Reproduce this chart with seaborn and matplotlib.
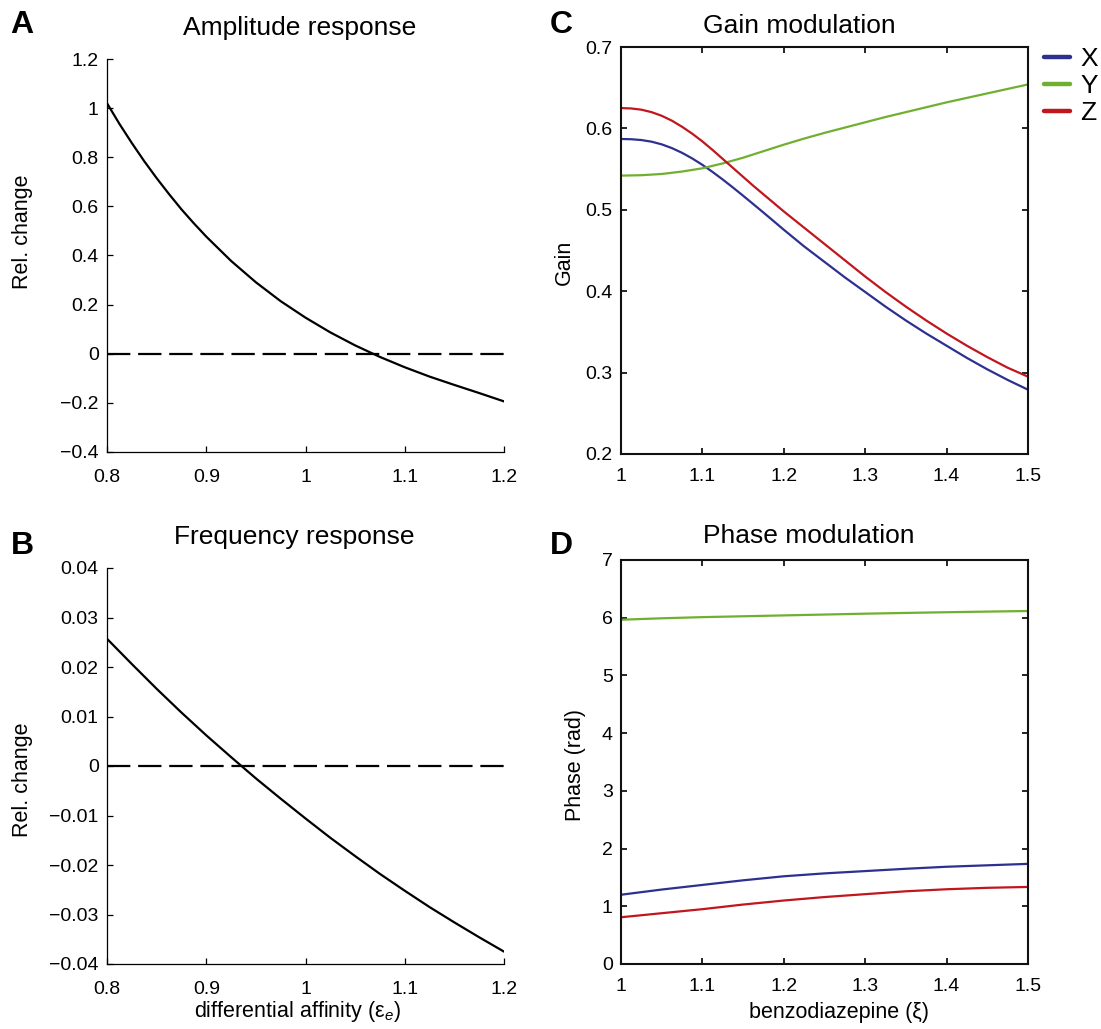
import pandas as pd
import matplotlib
matplotlib.use("Agg")
import matplotlib.pyplot as plt
import seaborn as sns
from matplotlib.lines import Line2D
from matplotlib.ticker import FuncFormatter

sns.set_style("ticks")
plt.rcParams['font.family'] = ['Liberation Sans', 'DejaVu Sans']
plt.rcParams['mathtext.fontset'] = 'custom'
plt.rcParams['mathtext.rm'] = 'Liberation Sans'
plt.rcParams['mathtext.it'] = 'Liberation Sans:italic'
plt.rcParams['text.color'] = 'black'
plt.rcParams['axes.labelcolor'] = 'black'
plt.rcParams['xtick.color'] = 'black'
plt.rcParams['ytick.color'] = 'black'

# --- data ---
# A: amplitude response vs differential affinity
eps_amp = [0.8, 0.8125, 0.825, 0.8375, 0.85, 0.8625, 0.875, 0.8875, 0.9, 0.925,
           0.95, 0.975, 1.0, 1.025, 1.05, 1.075, 1.1, 1.125, 1.15, 1.175, 1.2]
amp_change = [1.020, 0.936, 0.858, 0.784, 0.715, 0.650, 0.588, 0.531, 0.477,
              0.378, 0.291, 0.214, 0.147, 0.087, 0.034, -0.013, -0.055, -0.093,
              -0.127, -0.160, -0.194]

# B: frequency response vs differential affinity
eps_freq = [0.8, 0.825, 0.85, 0.875, 0.9, 0.925, 0.95, 0.975, 1.0, 1.025,
            1.05, 1.075, 1.1, 1.125, 1.15, 1.175, 1.2]
freq_change = [0.0257, 0.0206, 0.0156, 0.0108, 0.0062, 0.0018, -0.0025, -0.0066,
               -0.0106, -0.0145, -0.0182, -0.0218, -0.0252, -0.0285, -0.0316,
               -0.0346, -0.0375]

# C: gain modulation vs benzodiazepine
xi_gain_fine = [1.0, 1.0125, 1.025, 1.0375, 1.05, 1.0625, 1.075, 1.0875, 1.1,
                1.1125, 1.125, 1.1375, 1.15, 1.1625, 1.175, 1.1875, 1.2, 1.225,
                1.25, 1.275, 1.3, 1.325, 1.35, 1.375, 1.4, 1.425, 1.45, 1.475, 1.5]
gain_x = [0.5870, 0.5867, 0.5857, 0.5837, 0.5804, 0.5758, 0.5700, 0.5631, 0.5552,
          0.5465, 0.5372, 0.5274, 0.5173, 0.5070, 0.4966, 0.4861, 0.4755, 0.455,
          0.436, 0.417, 0.399, 0.381, 0.364, 0.348, 0.333, 0.318, 0.304, 0.291, 0.279]
gain_z = [0.6250, 0.6245, 0.6230, 0.6200, 0.6155, 0.6095, 0.6020, 0.5935, 0.5840,
          0.5735, 0.5625, 0.5515, 0.5405, 0.5295, 0.5190, 0.5085, 0.4980, 0.478,
          0.458, 0.438, 0.418, 0.399, 0.381, 0.364, 0.348, 0.333, 0.319, 0.306, 0.295]
xi_gain = [1.0, 1.025, 1.05, 1.075, 1.1, 1.125, 1.15, 1.175, 1.2, 1.225, 1.25,
           1.275, 1.3, 1.325, 1.35, 1.375, 1.4, 1.425, 1.45, 1.475, 1.5]
gain_y = [0.5420, 0.5425, 0.5440, 0.5470, 0.5510, 0.5570, 0.5640, 0.5720, 0.5800,
          0.5875, 0.5945, 0.6010, 0.6075, 0.6140, 0.6200, 0.6260, 0.6320, 0.6375,
          0.6430, 0.6485, 0.6540]

# D: phase modulation vs benzodiazepine
xi_phase = [1.0, 1.05, 1.1, 1.15, 1.2, 1.25, 1.3, 1.35, 1.4, 1.45, 1.5]
phase_x = [1.20, 1.29, 1.37, 1.45, 1.52, 1.57, 1.61, 1.65, 1.685, 1.71, 1.735]
phase_y = [5.965, 5.99, 6.01, 6.025, 6.04, 6.055, 6.07, 6.083, 6.095, 6.106, 6.116]
phase_z = [0.81, 0.88, 0.95, 1.03, 1.10, 1.16, 1.21, 1.26, 1.295, 1.32, 1.335]

cells = ['X', 'Y', 'Z']
cell_colors = {'X': '#2e3090', 'Y': '#70b030', 'Z': '#c0161e'}

df_gain = pd.DataFrame({
    'xi': xi_gain_fine + xi_gain + xi_gain_fine,
    'gain': gain_x + gain_y + gain_z,
    'cell': ['X'] * len(gain_x) + ['Y'] * len(gain_y) + ['Z'] * len(gain_z),
})
df_phase = pd.DataFrame({
    'xi': xi_phase * 3,
    'phase': phase_x + phase_y + phase_z,
    'cell': ['X'] * len(xi_phase) + ['Y'] * len(xi_phase) + ['Z'] * len(xi_phase),
})

W, H = 1101, 1029


def fmt(v, pos):
    return f'{round(v, 6):g}'.replace('-', '\u2212')


def axes_px(left, top, right, bottom):
    return [left / W, 1 - bottom / H, (right - left) / W, (bottom - top) / H]


fig = plt.figure(figsize=(W / 100, H / 100), dpi=100)
ax_a = fig.add_axes(axes_px(107, 59, 504, 452))
ax_b = fig.add_axes(axes_px(107, 568, 504, 964))
ax_c = fig.add_axes(axes_px(621, 47, 1028, 454))
ax_d = fig.add_axes(axes_px(621, 560, 1028, 964))

# A
sns.lineplot(x=eps_amp, y=amp_change, color='black', lw=1.6, ax=ax_a)
ax_a.axhline(0, color='black', lw=1.6, ls=(0, (10.5, 3.5)))
ax_a.set_xlim(0.8, 1.2)
ax_a.set_ylim(-0.4, 1.2)
ax_a.set_xticks([0.8, 0.9, 1.0, 1.1, 1.2])
ax_a.set_yticks([-0.4, -0.2, 0, 0.2, 0.4, 0.6, 0.8, 1.0, 1.2])

# B
sns.lineplot(x=eps_freq, y=freq_change, color='black', lw=1.6, ax=ax_b)
ax_b.axhline(0, color='black', lw=1.6, ls=(0, (10.5, 3.5)))
ax_b.set_xlim(0.8, 1.2)
ax_b.set_ylim(-0.04, 0.04)
ax_b.set_xticks([0.8, 0.9, 1.0, 1.1, 1.2])
ax_b.set_yticks([-0.04, -0.03, -0.02, -0.01, 0, 0.01, 0.02, 0.03, 0.04])

# C
sns.lineplot(data=df_gain, x='xi', y='gain', hue='cell', hue_order=cells,
             palette=cell_colors, lw=1.6, legend=False, ax=ax_c)
ax_c.set_xlim(1, 1.5)
ax_c.set_ylim(0.2, 0.7)
ax_c.set_xticks([1, 1.1, 1.2, 1.3, 1.4, 1.5])
ax_c.set_yticks([0.2, 0.3, 0.4, 0.5, 0.6, 0.7])

# D
sns.lineplot(data=df_phase, x='xi', y='phase', hue='cell', hue_order=cells,
             palette=cell_colors, lw=1.6, legend=False, ax=ax_d)
ax_d.set_xlim(1, 1.5)
ax_d.set_ylim(0, 7)
ax_d.set_xticks([1, 1.1, 1.2, 1.3, 1.4, 1.5])
ax_d.set_yticks(range(0, 8))

# styling
for ax in [ax_a, ax_b, ax_c, ax_d]:
    ax.xaxis.set_major_formatter(FuncFormatter(fmt))
    ax.yaxis.set_major_formatter(FuncFormatter(fmt))
    ax.set_facecolor('white')

for ax in [ax_a, ax_b]:
    ax.spines[['top', 'right']].set_visible(False)
    for s in ['left', 'bottom']:
        ax.spines[s].set_linewidth(0.9)
        ax.spines[s].set_color('black')
    ax.tick_params(direction='in', length=4, width=0.9, labelsize=14)
    ax.tick_params(axis='x', pad=12)
    ax.tick_params(axis='y', pad=6)

for ax in [ax_c, ax_d]:
    for s in ax.spines.values():
        s.set_visible(True)
        s.set_linewidth(1.5)
        s.set_color('#111111')
    ax.tick_params(direction='in', length=4, width=1.2, labelsize=14,
                   top=True, right=True)
    ax.tick_params(axis='x', pad=10)
    ax.tick_params(axis='y', pad=6)

# axis labels
ax_a.set_ylabel('Rel. change', fontsize=15.5, va='center')
ax_a.yaxis.set_label_coords(-0.212, 0.56)
ax_a.set_xlabel('')
ax_b.set_ylabel('Rel. change', fontsize=15.5, va='center')
ax_b.yaxis.set_label_coords(-0.212, 0.465)
ax_b.set_xlabel('differential affinity (ε$_{e}$)', fontsize=15.5, va='center')
ax_b.xaxis.set_label_coords(0.481, -0.119)
ax_c.set_ylabel('Gain', fontsize=15.5, va='center')
ax_c.yaxis.set_label_coords(-0.140, 0.472)
ax_c.set_xlabel('')
ax_d.set_ylabel('Phase (rad)', fontsize=15.5, va='center')
ax_d.yaxis.set_label_coords(-0.113, 0.493)
ax_d.set_xlabel('benzodiazepine (ξ)', fontsize=15.5, va='center')
ax_d.xaxis.set_label_coords(0.536, -0.121)

# titles
ax_a.text(0.484, 1.062, 'Amplitude response', transform=ax_a.transAxes,
          ha='center', va='baseline', fontsize=19)
ax_b.text(0.472, 1.061, 'Frequency response', transform=ax_b.transAxes,
          ha='center', va='baseline', fontsize=19)
ax_c.text(0.437, 1.034, 'Gain modulation', transform=ax_c.transAxes,
          ha='center', va='baseline', fontsize=19)
ax_d.text(0.462, 1.042, 'Phase modulation', transform=ax_d.transAxes,
          ha='center', va='baseline', fontsize=19)

# panel letters
for letter, x, y in [('A', 10, 33), ('B', 11, 554), ('C', 550, 33), ('D', 550, 554)]:
    fig.text(x / W, 1 - y / H, letter, fontsize=23, fontweight='bold',
             ha='left', va='baseline')

# legend
handles = [Line2D([0], [0], color=cell_colors[c], lw=3.2) for c in cells]
fig.legend(handles, cells, loc='upper left', bbox_to_anchor=(1044 / W, 1 - 47 / H),
           frameon=False, fontsize=19, handlelength=1.0, handletextpad=0.38,
           labelspacing=0.12, borderpad=0, borderaxespad=0)

fig.savefig('out.png', dpi=100, facecolor='white')
